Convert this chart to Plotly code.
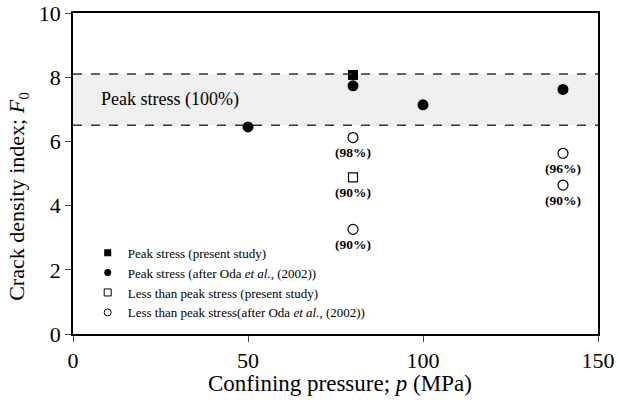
import plotly.graph_objects as go

# Data
peak_present_x = [80]
peak_present_y = [8.07]
peak_oda_x = [50, 80, 100, 140]
peak_oda_y = [6.45, 7.73, 7.14, 7.62]
less_present_x = [80]
less_present_y = [4.88]
less_present_lbl = ["(90%)"]
less_oda_x = [80, 80, 140, 140]
less_oda_y = [6.12, 3.26, 5.63, 4.64]
less_oda_lbl = ["(98%)", "(90%)", "(96%)", "(90%)"]
band_lo, band_hi = 6.5, 8.1
names = ["Peak stress (present study)",
         "Peak stress (after Oda <i>et al.</i>, (2002))",
         "Less than peak stress (present study)",
         "Less than peak stress(after Oda <i>et al.</i>, (2002))"]

SERIF = "Liberation Serif, Times New Roman, serif"

fig = go.Figure()

# Peak stress band
fig.add_shape(type="rect", xref="x", yref="y", x0=0, x1=150, y0=band_lo, y1=band_hi,
              fillcolor="rgba(190,190,190,0.25)", line=dict(width=0), layer="below")
for yv in (band_lo, band_hi):
    fig.add_shape(type="line", xref="x", yref="y", x0=0, x1=150, y0=yv, y1=yv,
                  line=dict(color="#333", width=1.5, dash="dash"))
fig.add_annotation(x=7.5, y=7.3, xref="x", yref="y", text="Peak stress (100%)",
                   showarrow=False, xanchor="left", font=dict(family=SERIF, size=18, color="black"))

styles = [dict(symbol="square", size=10, color="black"),
          dict(symbol="circle", size=11, color="black"),
          dict(symbol="square-open", size=9, color="black", line=dict(width=1.2)),
          dict(symbol="circle-open", size=10, color="black", line=dict(width=1.2))]
legend_styles = [dict(symbol="square", size=7, color="black"),
                 dict(symbol="circle", size=7, color="black"),
                 dict(symbol="square-open", size=7, color="black", line=dict(width=1)),
                 dict(symbol="circle-open", size=7, color="black", line=dict(width=1))]
data = [(peak_present_x, peak_present_y), (peak_oda_x, peak_oda_y),
        (less_present_x, less_present_y), (less_oda_x, less_oda_y)]

for (xs, ys), st, nm in zip(data, styles, names):
    fig.add_trace(go.Scatter(x=xs, y=ys, mode="markers", marker=st, showlegend=False, name=nm))
for st, nm in zip(legend_styles, names):
    fig.add_trace(go.Scatter(x=[None], y=[None], mode="markers", marker=st, name=nm))

for xs, ys, ls in ((less_present_x, less_present_y, less_present_lbl), (less_oda_x, less_oda_y, less_oda_lbl)):
    for xv, yv, lb in zip(xs, ys, ls):
        fig.add_annotation(x=xv, y=yv, xref="x", yref="y", text="<b>" + lb + "</b>",
                           showarrow=False, yshift=-15,
                           font=dict(family=SERIF, size=13.5, color="black"))

# Axis titles
fig.add_annotation(x=0.509, y=-0.153, xref="paper", yref="paper",
                   text="Confining pressure; <i>p</i> (MPa)", showarrow=False,
                   xanchor="center", yanchor="middle", font=dict(family=SERIF, size=23, color="black"))
fig.add_annotation(x=-0.105, y=0.43, xref="paper", yref="paper",
                   text="Crack density index; <i>F</i><sub>0</sub>", showarrow=False, textangle=-90,
                   xanchor="center", yanchor="middle", font=dict(family=SERIF, size=22, color="black"))

fig.update_layout(
    width=619, height=407,
    margin=dict(l=73, r=21, t=13, b=73),
    paper_bgcolor="white", plot_bgcolor="white",
    font=dict(family=SERIF, color="black"),
    showlegend=True,
    legend=dict(x=0.028, y=0.30, xanchor="left", yanchor="top",
                font=dict(family=SERIF, size=13, color="black"),
                bgcolor="rgba(0,0,0,0)", tracegroupgap=0),
)
fig.update_xaxes(range=[0, 150], tickvals=[0, 50, 100, 150], ticks="outside", ticklen=6,
                 automargin=False,
                 showgrid=False, zeroline=False, showline=True, linecolor="black", linewidth=1.5,
                 mirror=True, tickfont=dict(family=SERIF, size=22))
fig.update_yaxes(range=[0, 10], tickvals=[0, 2, 4, 6, 8, 10], ticks="outside", ticklen=6,
                 automargin=False,
                 showgrid=False, zeroline=False, showline=True, linecolor="black", linewidth=1.5,
                 mirror=True, tickfont=dict(family=SERIF, size=22))

fig.write_html("out.html")
